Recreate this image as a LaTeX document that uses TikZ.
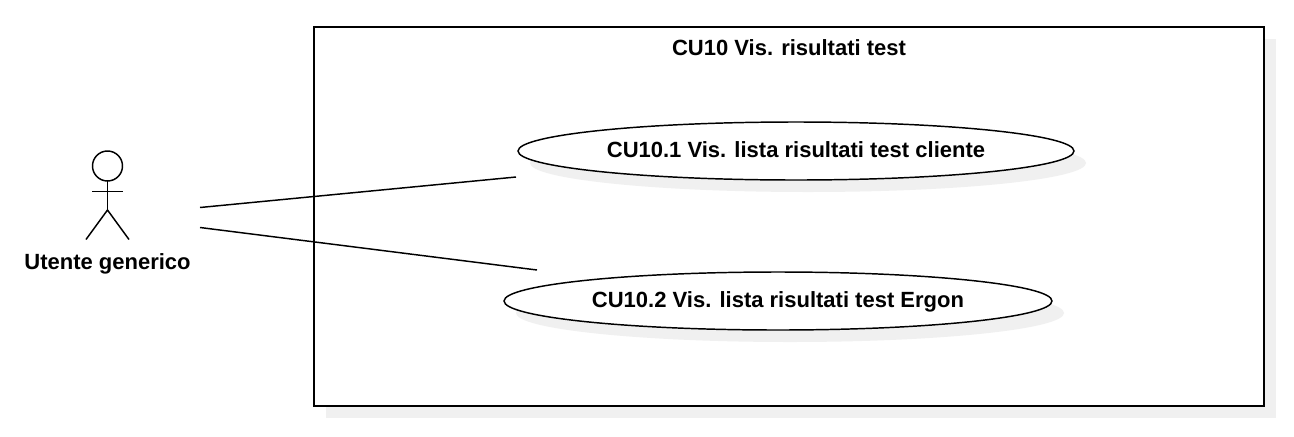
\documentclass[tikz,border=0pt]{standalone}
\usepackage{fontspec}
\setmainfont{Liberation Sans}
\usetikzlibrary{shapes.geometric,shadows}

\begin{document}
\begin{tikzpicture}[
  x=0.75pt, y=-0.75pt,
  font=\fontsize{16.5}{20}\selectfont\bfseries,
  every node/.append style={text height=12pt, text depth=3pt},
  system/.style={rectangle, draw=black, fill=white, line width=1.3pt, inner sep=0, outer sep=0,
                 minimum width=712.5pt, minimum height=284.25pt,
                 drop shadow={shadow xshift=9pt, shadow yshift=-9pt, fill=black!6, opacity=1}},
  usecase/.style={ellipse, draw=black, fill=white, line width=1.1pt, inner sep=0, outer sep=0,
                  minimum height=43.5pt,
                  drop shadow={shadow xshift=9pt, shadow yshift=-9pt, fill=black!6, opacity=1}},
  head/.style={circle, draw=black, line width=1.1pt, minimum size=22.5pt, inner sep=0, outer sep=0},
  limb/.style={line width=1.1pt, draw=black},
  assoc/.style={line width=1.1pt, draw=black},
]

\useasboundingbox (0,0) rectangle (1294,436);

\node[system] (box) at (789,216.5) {};
\node (title) at (789,49) {CU10 Vis. risultati test};

\node[usecase, minimum width=417pt] (uc1) at (796,151) {CU10.1 Vis. lista risultati test cliente};
\node[usecase, minimum width=411pt] (uc2) at (778,301) {CU10.2 Vis. lista risultati test Ergon};

% actor
\node[head] (capo) at (107.5,166) {};
\coordinate (bacino) at (107.5,210);
\coordinate (bracciosx) at (92,191.5);
\coordinate (bracciodx) at (123,191.5);
\coordinate (gambasx) at (86,239.5);
\coordinate (gambadx) at (129,239.5);
\node (utente) at (107.5,263.5) {Utente generico};

\draw[limb] (capo.south) -- (bacino);
\draw[limb] (bracciosx) -- (bracciodx);
\draw[limb] (gambasx) -- (bacino) -- (gambadx);

% associations
\coordinate (da1) at (200,207.5);
\coordinate (a1) at (516,177);
\coordinate (da2) at (200,227.5);
\coordinate (a2) at (537,270);
\draw[assoc] (da1) -- (a1);
\draw[assoc] (da2) -- (a2);

\end{tikzpicture}
\end{document}
